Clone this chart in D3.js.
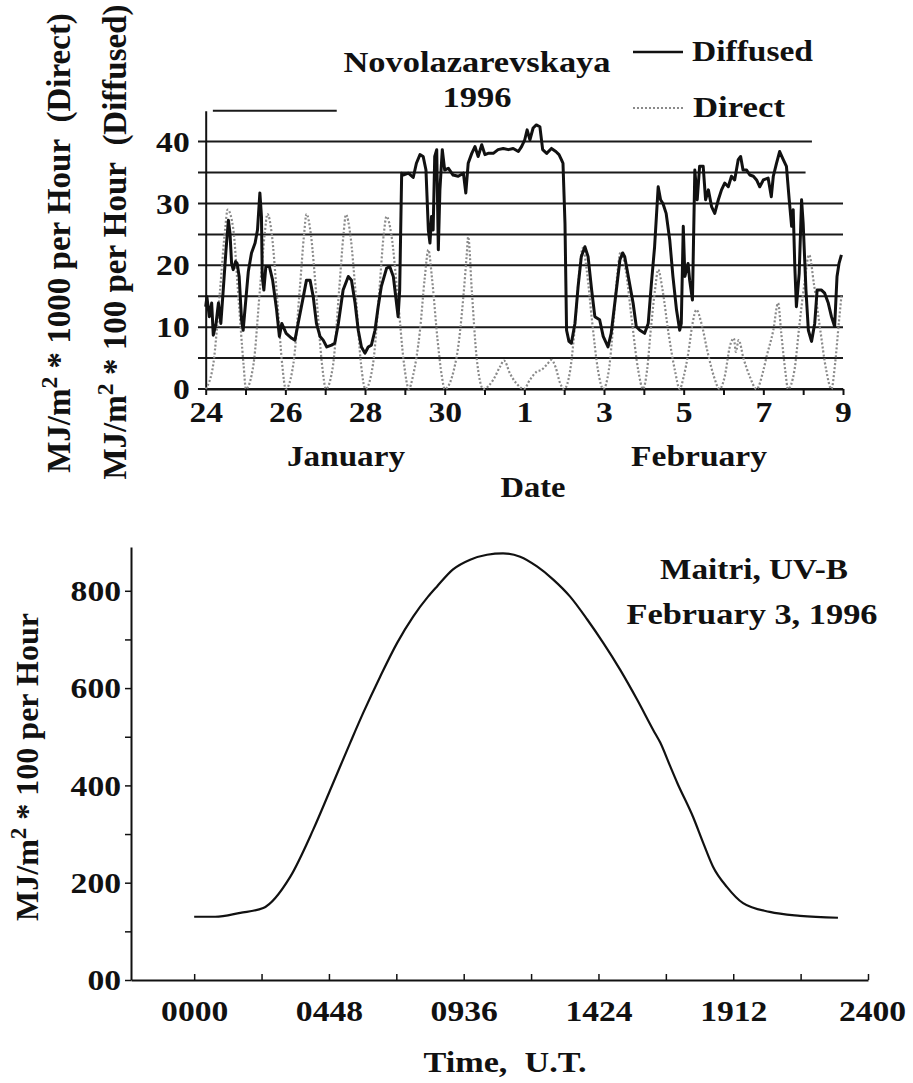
<!DOCTYPE html>
<html>
<head>
<meta charset="utf-8">
<script src="https://cdn.jsdelivr.net/npm/d3@7"></script>
<style>
  body { margin: 0; background: #fff; }
  svg text { font-family: "Liberation Serif", "Times New Roman", serif; font-weight: bold; fill: #111; }
</style>
</head>
<body>
<script>
const W = 913, H = 1083;

// ---- top chart: Novolazarevskaya, days since Jan 24 1996 00:00 ----
const dateLabels = ["24", "26", "28", "30", "1", "3", "5", "7", "9"];
const monthLabels = ["January", "February"];
const gridLevels = [0, 5, 10, 15, 20, 25, 30, 35, 40];
const gridEnds = [16, 16, 16, 16, 15.9, 16, 16, 15.06, 15.22]; // last day each grid line reaches
const yTicksTop = [0, 10, 20, 30, 40];

const diffused = [
  [0,13.3],[0.03,14.9],[0.09,11.7],[0.15,13.9],[0.19,8.7],[0.26,10.6],[0.32,13.9],[0.38,10.6],[0.44,16],
  [0.51,22.5],[0.57,27.3],[0.61,25.2],[0.65,20.3],[0.69,19.3],[0.75,20.6],[0.79,20.3],[0.84,18.2],[0.9,11.2],
  [0.94,9.5],[1.0,13.9],[1.07,19],[1.15,22],[1.24,23.6],[1.3,25.7],[1.36,31.7],[1.4,27.9],[1.42,18.2],
  [1.46,16],[1.51,19.8],[1.6,19.8],[1.68,17.6],[1.78,12.8],[1.85,8.5],[1.91,10.6],[2.02,9],[2.16,8.2],
  [2.24,7.9],[2.32,10.6],[2.45,14.9],[2.53,17.6],[2.62,17.6],[2.7,14.9],[2.78,10.6],[2.87,8.5],[2.95,7.9],
  [3.04,6.8],[3.16,7.1],[3.24,7.4],[3.33,10.6],[3.45,16],[3.58,18.2],[3.66,17.6],[3.75,13.9],[3.83,9.5],
  [3.91,6.8],[4.0,5.8],[4.08,6.8],[4.16,7.1],[4.25,9.5],[4.33,13.3],[4.41,16.6],[4.54,19.5],[4.62,19.8],
  [4.71,18.2],[4.79,13.9],[4.83,11.7],[4.87,16],[4.92,34.9],[4.96,34.6],[5.09,34.9],[5.21,34.2],[5.29,36.5],
  [5.38,37.9],[5.46,37.6],[5.53,35.4],[5.59,25.7],[5.63,23.6],[5.67,27.9],[5.71,25.7],[5.75,37.6],[5.8,38.7],
  [5.84,22.5],[5.88,32.2],[5.94,38.7],[6.0,35.4],[6.09,35.7],[6.21,34.6],[6.34,34.4],[6.47,34.9],[6.53,31.7],
  [6.59,36.5],[6.68,38.1],[6.76,39.2],[6.84,37.6],[6.93,39.5],[7.01,37.9],[7.09,38.1],[7.22,38.1],[7.34,38.7],
  [7.47,38.9],[7.6,38.7],[7.72,38.9],[7.85,38.4],[7.93,39.2],[8.01,40.3],[8.07,41.9],[8.14,40.3],[8.22,42.2],
  [8.3,42.7],[8.39,42.4],[8.46,38.7],[8.56,38.1],[8.68,38.9],[8.79,38.4],[8.87,37.9],[8.93,37.1],[8.97,36.5],
  [9.02,26.8],[9.06,9.5],[9.12,7.7],[9.18,7.4],[9.27,10.6],[9.35,16.6],[9.43,21.4],[9.52,23],[9.6,21.4],
  [9.69,16],[9.77,11.7],[9.89,11.2],[9.98,8.5],[10.1,6.8],[10.18,9],[10.31,16],[10.4,20.9],[10.47,22],
  [10.52,21.4],[10.61,18.2],[10.73,13.9],[10.81,10.1],[10.9,9.5],[11.02,9],[11.11,10.6],[11.19,17.1],[11.27,23],
  [11.36,32.7],[11.42,30.6],[11.48,30],[11.56,28.4],[11.65,24.1],[11.73,18.2],[11.82,12.8],[11.9,9.5],[11.94,10.6],
  [11.99,26.3],[12.03,18.2],[12.11,20.3],[12.15,17.6],[12.22,14.4],[12.28,35.4],[12.34,30.6],[12.4,36],[12.49,36],
  [12.55,30.6],[12.62,32.2],[12.7,29.5],[12.78,28.4],[12.87,30.6],[12.95,32.2],[13.03,33.3],[13.12,32.7],[13.2,34.4],
  [13.28,33.8],[13.37,37.1],[13.43,37.6],[13.49,35.4],[13.58,35.4],[13.66,34.6],[13.75,34.4],[13.83,33.8],[13.91,32.7],
  [14.0,33.8],[14.12,34.1],[14.2,31.1],[14.25,34.4],[14.33,36.5],[14.41,38.4],[14.5,37.1],[14.58,36],[14.65,30.6],
  [14.71,26.3],[14.75,29],[14.79,19.8],[14.83,13.3],[14.9,18.7],[14.96,30.6],[15.0,26.8],[15.07,16],[15.13,9.5],
  [15.21,7.7],[15.29,10.6],[15.35,16],[15.46,16],[15.54,15.5],[15.63,13.9],[15.71,11.7],[15.79,10.1],[15.85,18.2],
  [15.9,20.3],[15.96,21.7]
];

const direct = [
  [0,0],[0.19,4],[0.36,16],[0.49,26],[0.55,29],[0.69,26],[0.82,15],[0.95,4],[1.01,0],
  [1.2,4],[1.36,16],[1.48,25],[1.55,28.3],[1.66,25],[1.79,15],[1.92,4],[2.01,0],
  [2.2,4],[2.36,16],[2.47,25],[2.53,28.3],[2.64,25],[2.78,15],[2.92,4],[3.02,0],
  [3.2,4],[3.35,16],[3.46,25],[3.52,28.2],[3.63,25],[3.77,15],[3.9,4],[4.01,0],
  [4.2,4],[4.36,16],[4.47,25],[4.54,27.9],[4.66,25],[4.82,15],[4.98,4],[5.1,0],
  [5.2,2],[5.38,9.5],[5.5,18],[5.59,22.5],[5.68,18],[5.82,8],[5.93,2],[6.0,0],
  [6.3,5.2],[6.47,15],[6.55,21.4],[6.59,24.6],[6.68,16],[6.8,5.2],[6.97,0],
  [7.22,1.5],[7.39,3.6],[7.49,4.6],[7.64,2.5],[7.8,0.9],[7.99,0],
  [8.14,1.5],[8.31,2.8],[8.43,3.1],[8.56,3.9],[8.68,4.7],[8.78,3.6],[8.9,0.9],[9.0,0],
  [9.15,3],[9.28,11],[9.38,19],[9.47,22.8],[9.57,19],[9.7,11],[9.85,3],[9.98,0],
  [10.12,3],[10.24,11],[10.34,19],[10.42,22.2],[10.55,19],[10.7,11],[10.86,3],[10.98,0],
  [11.08,3],[11.18,10],[11.28,16],[11.36,19.3],[11.47,16],[11.62,9],[11.78,3],[11.9,0],
  [12.0,2],[12.12,6],[12.22,10.5],[12.32,12.8],[12.45,10.5],[12.6,6],[12.76,2],[12.9,0],
  [13.03,2],[13.16,6.9],[13.26,8.2],[13.31,6],[13.38,7.9],[13.5,5],[13.66,2],[13.83,0],
  [14.0,3],[14.08,5.2],[14.25,9.5],[14.37,13.9],[14.45,9],[14.55,3],[14.62,0],
  [14.78,3],[14.9,10],[15.03,17],[15.15,21.7],[15.27,17],[15.42,10],[15.58,3],[15.71,0],
  [15.8,4],[15.9,11],[15.96,15]
];

// ---- bottom chart: Maitri UV-B, hours U.T. ----
const timeLabels = ["0000", "0448", "0936", "1424", "1912", "2400"];
const uvTickValues = [0, 100, 200, 300, 400, 500, 600, 700, 800];
const uvTickLabels = { 0: "00", 200: "200", 400: "400", 600: "600", 800: "800" };
const uvb = [
  [0.0,130],[0.75,130],[1.64,138],[2.46,148],[3.42,212],[4.24,309],[4.95,405],[5.56,488],[6.02,549],
  [6.62,623],[7.23,693],[7.8,747],[8.33,788],[8.65,809],[9.22,844],[9.83,864],[10.43,874],[11.0,877],
  [11.61,870],[12.21,850],[12.79,823],[13.39,788],[14.0,741],[14.57,693],[15.17,638],[15.78,576],
  [16.35,514],[16.6,488],[16.95,440],[17.2,406],[17.77,335],[18.13,282],[18.48,233],[18.98,191],
  [19.55,158],[20.5,140],[21.58,132],[22.93,128]
];

const svg = d3.select("body").append("svg").attr("width", W).attr("height", H);
svg.append("rect").attr("width", W).attr("height", H).attr("fill", "#fff");

function widen(sel, f) {
  sel.each(function() {
    const w = this.getComputedTextLength();
    if (w > 0) d3.select(this).attr("textLength", w * f).attr("lengthAdjust", "spacingAndGlyphs");
  });
}

function label(x, y, txt, size, anchor, len) {
  const t = svg.append("text").attr("x", x).attr("y", y).attr("font-size", size)
    .attr("text-anchor", anchor).text(txt);
  if (len) t.attr("textLength", len).attr("lengthAdjust", "spacingAndGlyphs");
  return t;
}

// ================= TOP CHART =================
const x1 = d3.scaleLinear().domain([0, 16]).range([205.7, 843]);
const y1 = d3.scaleLinear().domain([0, 45]).range([389, 110.7]);
const topG = svg.append("g");

// grid lines (they also poke out left of the axis like ticks)
topG.selectAll("line.grid").data(gridLevels).join("line")
  .attr("class", "grid")
  .attr("x1", 198).attr("x2", (d, i) => x1(gridEnds[i]))
  .attr("y1", d => y1(d)).attr("y2", d => y1(d))
  .attr("stroke", "#1a1a1a").attr("stroke-width", 2);

// short line at the top of the axis
topG.append("line")
  .attr("x1", x1(0.18)).attr("x2", x1(3.29))
  .attr("y1", y1(45)).attr("y2", y1(45))
  .attr("stroke", "#1a1a1a").attr("stroke-width", 2);

const yAxisTop = topG.append("g").attr("transform", `translate(${x1(0)},0)`)
  .call(d3.axisLeft(y1).tickValues(yTicksTop).tickSize(0).tickSizeOuter(0).tickPadding(16));
yAxisTop.select(".domain").attr("stroke", "#111").attr("stroke-width", 2);
yAxisTop.selectAll("text").attr("font-size", 30).attr("font-family", null).call(widen, 1.12);

const xAxisTop = topG.append("g").attr("transform", `translate(0,${y1(0)})`)
  .call(d3.axisBottom(x1).tickValues(d3.range(0, 17)).tickSizeInner(6).tickSizeOuter(0).tickPadding(6)
    .tickFormat(d => d % 2 === 0 ? dateLabels[d / 2] : ""));
xAxisTop.select(".domain").attr("stroke", "#111").attr("stroke-width", 2);
xAxisTop.selectAll(".tick line").attr("stroke", "#111").attr("stroke-width", 2);
xAxisTop.selectAll("text").attr("font-size", 30).attr("font-family", null).call(widen, 1.12);

topG.append("path").datum(direct)
  .attr("d", d3.line().x(d => x1(d[0])).y(d => y1(d[1])).curve(d3.curveMonotoneX))
  .attr("fill", "none").attr("stroke", "#8a8a8a").attr("stroke-width", 2.2)
  .attr("stroke-dasharray", "2,2");

topG.append("path").datum(diffused)
  .attr("d", d3.line().x(d => x1(d[0])).y(d => y1(d[1])))
  .attr("fill", "none").attr("stroke", "#111").attr("stroke-width", 3)
  .attr("stroke-linejoin", "round");

// titles and legend
label(477, 72, "Novolazarevskaya", 30, "middle", 267);
label(477, 107, "1996", 30, "middle", 69);
topG.append("line").attr("x1", 633).attr("x2", 683).attr("y1", 52).attr("y2", 52)
  .attr("stroke", "#111").attr("stroke-width", 2.5);
label(692, 61, "Diffused", 30, "start", 121);
topG.append("line").attr("x1", 633).attr("x2", 683).attr("y1", 108).attr("y2", 108)
  .attr("stroke", "#8a8a8a").attr("stroke-width", 2).attr("stroke-dasharray", "2,2");
label(693, 117, "Direct", 30, "start", 92);

label(346, 466, monthLabels[0], 30, "middle", 118);
label(699, 466, monthLabels[1], 30, "middle", 136);
label(533, 497, "Date", 30, "middle", 65);

function yTitle(x, y, size, pre, post) {
  const t = svg.append("text").attr("transform", `translate(${x},${y}) rotate(-90)`)
    .attr("text-anchor", "middle").attr("font-size", size);
  t.append("tspan").text(pre);
  t.append("tspan").attr("font-size", size * 0.72).attr("dy", -size * 0.38).text("2");
  t.append("tspan").attr("dy", size * 0.38).text(post);
  return t;
}
yTitle(70, 243, 33, "MJ/m", " * 1000 per Hour\u00a0 (Direct)");
yTitle(126, 242, 33, "MJ/m", " * 100 per Hour\u00a0 (Diffused)");

// ================= BOTTOM CHART =================
const tMin = -2.25;
const x2 = d3.scaleLinear().domain([tMin, 24]).range([131, 868]);
const y2 = d3.scaleLinear().domain([0, 890]).range([980, 547]);
const botG = svg.append("g");

const yAxisBot = botG.append("g").attr("transform", `translate(${x2(tMin)},0)`)
  .call(d3.axisLeft(y2).tickValues(uvTickValues).tickSizeInner(6).tickSizeOuter(0).tickPadding(4)
    .tickFormat(d => uvTickLabels[d] || ""));
yAxisBot.select(".domain").attr("stroke", "#111").attr("stroke-width", 2);
yAxisBot.selectAll(".tick line").attr("stroke", "#111").attr("stroke-width", 1.5);
yAxisBot.selectAll("text").attr("font-size", 30).attr("font-family", null).call(widen, 1.12);

const timeTicks = d3.range(0, 11).map(i => i * 2.4);
const xAxisBot = botG.append("g").attr("transform", `translate(0,${y2(0)})`)
  .call(d3.axisBottom(x2).tickValues(timeTicks).tickSizeInner(-6).tickSizeOuter(0).tickPadding(20)
    .tickFormat((d, i) => i % 2 === 0 ? timeLabels[i / 2] : ""));
xAxisBot.select(".domain").attr("stroke", "#111").attr("stroke-width", 2);
xAxisBot.selectAll(".tick line").attr("stroke", "#111").attr("stroke-width", 1.5);
xAxisBot.selectAll("text").attr("font-size", 30).attr("font-family", null).call(widen, 1.12);
xAxisBot.selectAll("text").filter(d => d === 24).attr("dx", 4);

botG.append("path").datum(uvb)
  .attr("d", d3.line().x(d => x2(d[0])).y(d => y2(d[1])).curve(d3.curveMonotoneX))
  .attr("fill", "none").attr("stroke", "#111").attr("stroke-width", 2.2);

label(754, 579, "Maitri, UV-B", 30, "middle", 188);
label(752, 624, "February 3, 1996", 30, "middle", 251);
label(505, 1072, "Time,\u00a0 U.T.", 30, "middle", 163);
yTitle(38, 767, 32, "MJ/m", " * 100 per Hour");
</script>
</body>
</html>
